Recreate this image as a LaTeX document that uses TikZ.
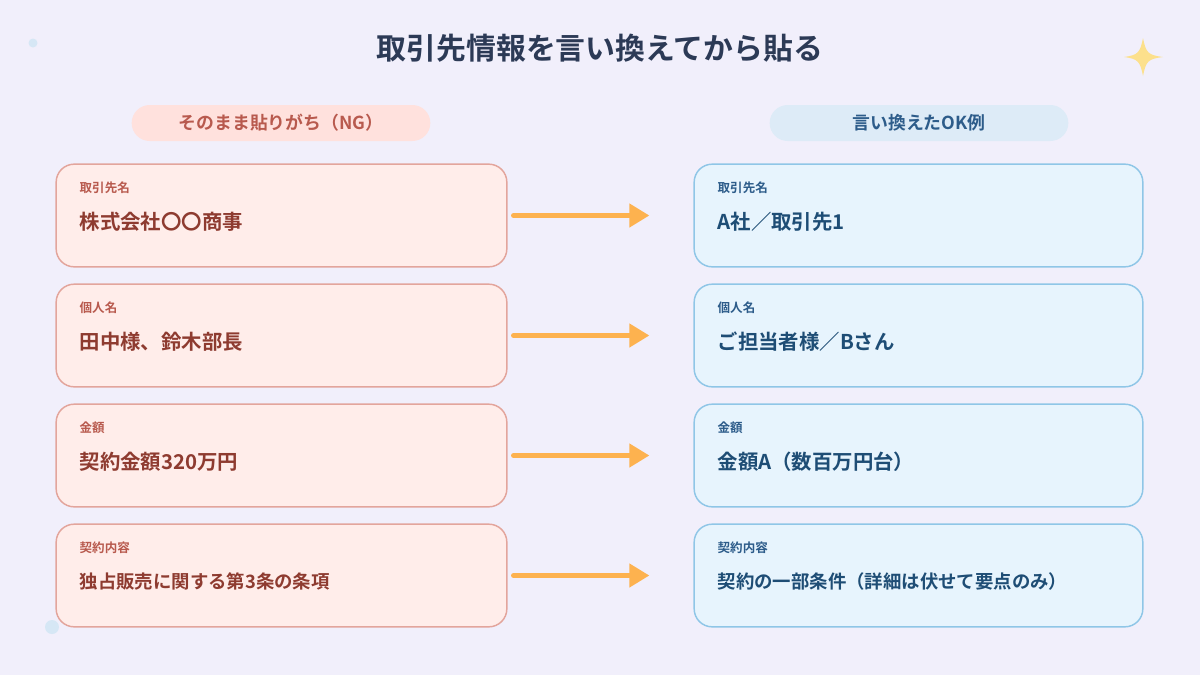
\documentclass[tikz,border=0pt]{standalone}
\usepackage{fontspec}
\setmainfont{Noto Sans CJK JP}[BoldFont={Noto Sans CJK JP Bold}]
\usetikzlibrary{calc,arrows.meta}

\definecolor{bgcol}{HTML}{F1EFFB}
\definecolor{titlecol}{HTML}{2C3A56}
\definecolor{ngfill}{HTML}{FFEDEA}
\definecolor{ngdraw}{HTML}{E3A59C}
\definecolor{nglabel}{HTML}{B85A4E}
\definecolor{ngtext}{HTML}{8E3B30}
\definecolor{ngpillfill}{HTML}{FFE1DD}
\definecolor{okfill}{HTML}{E7F4FD}
\definecolor{okdraw}{HTML}{8FC6E7}
\definecolor{oklabel}{HTML}{2D5C8A}
\definecolor{oktext}{HTML}{1E4D75}
\definecolor{okpillfill}{HTML}{DDEBF7}
\definecolor{arrowcol}{HTML}{FDB24F}
\definecolor{starcol}{HTML}{FCE08C}
\definecolor{dotcol}{HTML}{D6E7F5}

\begin{document}
\begin{tikzpicture}[
    x=0.75pt, y=-0.75pt,
    ngbox/.style={rectangle, rounded corners=13.5pt, draw=ngdraw, fill=ngfill, line width=1.1pt, minimum width=338pt, minimum height=77pt},
    okbox/.style={rectangle, rounded corners=13.5pt, draw=okdraw, fill=okfill, line width=1.1pt, minimum width=336.5pt, minimum height=77pt},
    pill/.style={rectangle, rounded corners=13.5pt, minimum width=224pt, minimum height=27pt, font=\fontsize{13.4}{15}\selectfont\bfseries},
    lbl/.style={anchor=west, inner sep=0pt, font=\fontsize{9.4}{11}\selectfont\bfseries},
    main/.style={anchor=west, inner sep=0pt, font=\fontsize{15.3}{18}\selectfont\bfseries},
    mainsm/.style={anchor=west, inner sep=0pt, font=\fontsize{13.8}{16}\selectfont\bfseries},
    arrow/.style={-{Triangle[length=15pt,width=17pt]}, line width=3.8pt, arrowcol, line cap=round, shorten <=4.5pt, shorten >=33pt}
]

% Background
\fill[bgcol] (0,0) rectangle (1200,675);
\useasboundingbox (0,0) rectangle (1200,675);

% Decorations
\fill[dotcol] (33,43) circle (4.5);
\fill[dotcol] (52,627) circle (7);
\fill[starcol] (1143,38) .. controls (1146,53) and (1148,55) .. (1163,57)
    .. controls (1148,59) and (1146,61) .. (1143,76)
    .. controls (1140,61) and (1138,59) .. (1124,57)
    .. controls (1138,55) and (1140,53) .. (1143,38) -- cycle;

% Title
\node[font=\fontsize{22.4}{26}\selectfont\bfseries, text=titlecol] (title) at (600,48) {取引先情報を言い換えてから貼る};

% Column headers
\node[pill, fill=ngpillfill, text=nglabel] (nghead) at (281,123) {そのまま貼りがち（NG）};
\node[pill, fill=okpillfill, text=oklabel] (okhead) at (919,123) {言い換えたOK例};

% Left column (NG)
\node[ngbox] (ng1) at (281.5,215.5) {};
\node[ngbox] (ng2) at (281.5,335.5) {};
\node[ngbox] (ng3) at (281.5,455.5) {};
\node[ngbox] (ng4) at (281.5,575.5) {};

\node[lbl, text=nglabel] (ng1l) at ($(ng1.north west)+(24,24)$) {取引先名};
\node[main, text=ngtext] (ng1t) at ($(ng1.north west)+(24,58)$) {株式会社〇〇商事};
\node[lbl, text=nglabel] (ng2l) at ($(ng2.north west)+(24,24)$) {個人名};
\node[main, text=ngtext] (ng2t) at ($(ng2.north west)+(24,58)$) {田中様、鈴木部長};
\node[lbl, text=nglabel] (ng3l) at ($(ng3.north west)+(24,24)$) {金額};
\node[main, text=ngtext] (ng3t) at ($(ng3.north west)+(24,58)$) {契約金額320万円};
\node[lbl, text=nglabel] (ng4l) at ($(ng4.north west)+(24,24)$) {契約内容};
\node[mainsm, text=ngtext] (ng4t) at ($(ng4.north west)+(24,58)$) {独占販売に関する第3条の条項};

% Right column (OK)
\node[okbox] (ok1) at (918.5,215.5) {};
\node[okbox] (ok2) at (918.5,335.5) {};
\node[okbox] (ok3) at (918.5,455.5) {};
\node[okbox] (ok4) at (918.5,575.5) {};

\node[lbl, text=oklabel] (ok1l) at ($(ok1.north west)+(24,24)$) {取引先名};
\node[main, text=oktext] (ok1t) at ($(ok1.north west)+(24,58)$) {A社／取引先1};
\node[lbl, text=oklabel] (ok2l) at ($(ok2.north west)+(24,24)$) {個人名};
\node[main, text=oktext] (ok2t) at ($(ok2.north west)+(24,58)$) {ご担当者様／Bさん};
\node[lbl, text=oklabel] (ok3l) at ($(ok3.north west)+(24,24)$) {金額};
\node[main, text=oktext] (ok3t) at ($(ok3.north west)+(24,58)$) {金額A（数百万円台）};
\node[lbl, text=oklabel] (ok4l) at ($(ok4.north west)+(24,24)$) {契約内容};
\node[mainsm, text=oktext] (ok4t) at ($(ok4.north west)+(24,58)$) {契約の一部条件（詳細は伏せて要点のみ）};

% Arrows
\draw[arrow] (ng1.east) -- (ok1.west);
\draw[arrow] (ng2.east) -- (ok2.west);
\draw[arrow] (ng3.east) -- (ok3.west);
\draw[arrow] (ng4.east) -- (ok4.west);

\end{tikzpicture}
\end{document}
